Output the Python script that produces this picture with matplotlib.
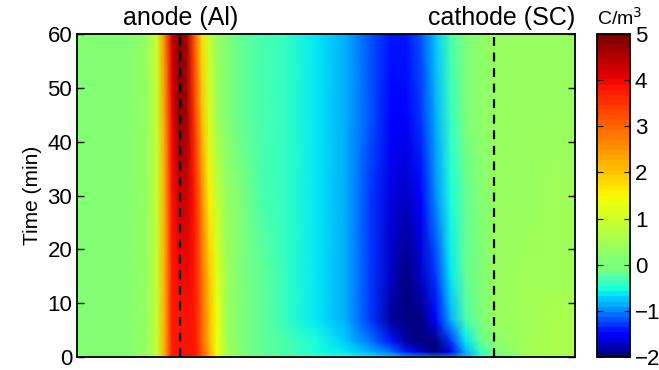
import numpy as np
import matplotlib
matplotlib.use('Agg')
import matplotlib.pyplot as plt
from matplotlib.colors import ListedColormap

plt.rcParams['font.family'] = ['Liberation Sans', 'DejaVu Sans']

# time rows (min) and normalised position across the cell
times = [0, 1, 3, 7, 15, 30, 45, 60]
pos = [0.00, 0.10, 0.14, 0.16, 0.175, 0.19, 0.205, 0.22, 0.235, 0.25,
       0.265, 0.28, 0.30, 0.33, 0.37, 0.42, 0.48, 0.54, 0.59, 0.63,
       0.66, 0.69, 0.72, 0.75, 0.78, 0.81, 0.84, 0.90, 0.96, 1.00]

# charge density (C/m^3), one row per time
rho_t0 = [0.15, 0.15, 0.3, 0.9, 2.2, 3.7, 3.9, 3.9, 3.8, 3.2, 2.3, 1.4, 0.6, 0.0, -0.2,
          -0.3, -0.4, -0.5, -0.6, -0.7, -0.8, -0.95, -1.1, -1.0, -0.8, -0.5, -0.25, 0.45, 0.55, 0.6]
rho_t1 = [0.15, 0.15, 0.3, 0.9, 2.2, 3.7, 3.9, 3.9, 3.8, 3.2, 2.3, 1.4, 0.6, 0.0, -0.2,
          -0.35, -0.5, -0.65, -0.85, -1.1, -1.4, -1.75, -1.9, -1.6, -0.9, -0.45, 0.0, 0.45, 0.55, 0.6]
rho_t3 = [0.15, 0.15, 0.3, 0.9, 2.2, 3.7, 3.9, 3.9, 3.8, 3.1, 2.1, 1.3, 0.5, 0.0, -0.2,
          -0.35, -0.55, -0.75, -1.05, -1.45, -1.8, -2.0, -1.95, -1.3, -0.65, -0.2, 0.2, 0.5, 0.55, 0.6]
rho_t7 = [0.15, 0.15, 0.3, 0.9, 2.2, 3.7, 3.9, 3.9, 3.8, 3.1, 2.1, 1.3, 0.5, -0.05, -0.25,
          -0.4, -0.6, -0.85, -1.3, -1.8, -2.0, -1.95, -1.5, -0.85, -0.35, 0.0, 0.3, 0.5, 0.55, 0.55]
rho_t15 = [0.15, 0.15, 0.3, 0.9, 2.2, 3.7, 4.0, 4.0, 3.9, 3.0, 2.0, 1.2, 0.5, -0.05, -0.25,
           -0.4, -0.6, -0.85, -1.3, -1.75, -1.9, -1.75, -1.25, -0.65, -0.25, 0.05, 0.35, 0.45, 0.5, 0.5]
rho_t30 = [0.15, 0.15, 0.3, 0.9, 2.2, 3.8, 4.3, 4.3, 3.8, 2.6, 1.6, 0.9, 0.4, -0.1, -0.3,
           -0.45, -0.6, -0.85, -1.25, -1.65, -1.75, -1.5, -1.0, -0.5, -0.15, 0.15, 0.35, 0.4, 0.45, 0.45]
rho_t45 = [0.15, 0.15, 0.3, 0.9, 2.3, 4.0, 4.8, 4.6, 3.5, 2.1, 1.1, 0.5, 0.15, -0.15, -0.3,
           -0.45, -0.6, -0.85, -1.2, -1.55, -1.55, -1.3, -0.85, -0.4, -0.1, 0.2, 0.35, 0.4, 0.4, 0.4]
rho_t60 = [0.15, 0.15, 0.3, 1.0, 2.5, 4.2, 5.0, 4.6, 3.2, 1.8, 0.9, 0.4, 0.1, -0.15, -0.3,
           -0.45, -0.6, -0.85, -1.15, -1.45, -1.45, -1.2, -0.7, -0.35, -0.05, 0.2, 0.35, 0.4, 0.35, 0.35]

anode_x = 0.207
cathode_x = 0.838

rho = np.array([rho_t0, rho_t1, rho_t3, rho_t7, rho_t15, rho_t30, rho_t45, rho_t60])

# jet split at zero: lower half for -2..0, upper half for 0..5
jet = plt.get_cmap('jet')
cmap = ListedColormap(np.vstack([jet(np.linspace(0, 0.5, 18)),
                                 jet(np.linspace(0.5, 1, 46))]))

fig = plt.figure(figsize=(6.59, 3.70), dpi=100)
ax = fig.add_axes([0.117, 0.035, 0.7555, 0.873])
cax = fig.add_axes([0.906, 0.035, 0.05, 0.873])

mesh = ax.pcolormesh(pos, times, rho, shading='gouraud', cmap=cmap, vmin=-2, vmax=5)
ax.axvline(anode_x, color='k', ls=(0, (4, 3)), lw=1.6)
ax.axvline(cathode_x, color='k', ls=(0, (4, 3)), lw=1.6)

ax.set_xlim(0, 1)
ax.set_ylim(0, 60)
ax.set_xticks([])
ax.set_yticks(range(0, 61, 10))
ax.tick_params(axis='y', direction='in', right=True, labelsize=16, length=5, width=1)
ax.set_ylabel('Time (min)', fontsize=15, labelpad=4)
for s in ax.spines.values():
    s.set_linewidth(1.3)

ax.text(anode_x, 1.012, 'anode (Al)', transform=ax.get_xaxis_transform(),
        ha='center', va='bottom', fontsize=18)
ax.text(1.0, 1.012, 'cathode (SC)', transform=ax.transAxes,
        ha='right', va='bottom', fontsize=18)

cb = fig.colorbar(mesh, cax=cax, ticks=range(-2, 6))
cb.ax.tick_params(direction='in', left=True, right=True, labelsize=16, length=4)
cb.ax.set_yticklabels(['\u22122', '\u22121', '0', '1', '2', '3', '4', '5'])
cb.outline.set_linewidth(1.3)
cax.text(0.0, 1.028, 'C/m$^3$', transform=cax.transAxes, ha='left', va='baseline', fontsize=14)

fig.savefig('out.png', dpi=100)
